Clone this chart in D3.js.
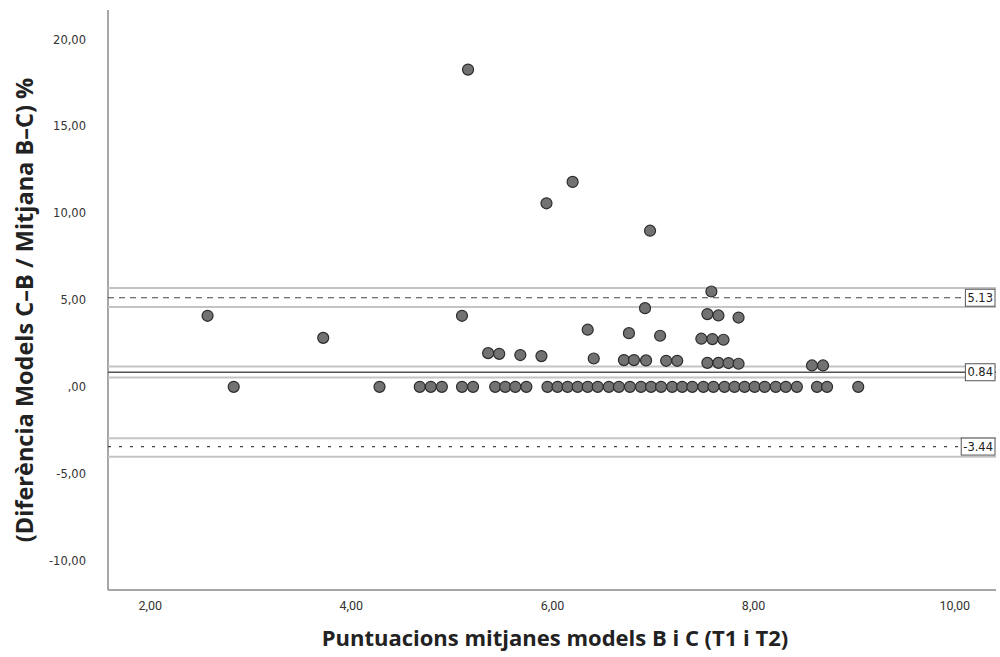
<!DOCTYPE html>
<html>
<head>
<meta charset="utf-8">
<script src="https://cdn.jsdelivr.net/npm/d3@7"></script>
<style>
  html, body { margin: 0; padding: 0; background: #fff; }
  svg { display: block; }
</style>
</head>
<body>
<div id="chart"></div>
<script>
// Bland-Altman style plot: mean score vs. % difference between models

// points off the zero line
const meanScore = [
  2.57, 3.72, 5.10, 5.16, 5.94, 6.20, 6.97, 5.36, 5.47, 5.68, 5.89, 6.35, 6.41,
  6.76, 6.71, 6.81, 6.93, 6.92, 7.07, 7.13, 7.24, 7.58, 7.54, 7.65, 7.85, 7.48,
  7.59, 7.70, 7.54, 7.65, 7.75, 7.85, 8.58, 8.69
];
const diffPct = [
  4.09, 2.82, 4.09, 18.27, 10.57, 11.80, 8.99, 1.94, 1.90, 1.83, 1.77, 3.29, 1.63,
  3.09, 1.54, 1.54, 1.52, 4.53, 2.94, 1.50, 1.50, 5.49, 4.19, 4.11, 3.99, 2.77,
  2.75, 2.71, 1.38, 1.38, 1.37, 1.33, 1.23, 1.23
];
// points with zero difference
const zeroScore = [
  2.83, 4.28, 4.68, 4.79, 4.90, 5.10, 5.21, 5.43, 5.53, 5.63, 5.74, 5.95, 6.05,
  6.15, 6.25, 6.35, 6.45, 6.56, 6.66, 6.77, 6.88, 6.98, 7.08, 7.19, 7.29, 7.39,
  7.50, 7.60, 7.71, 7.81, 7.91, 8.01, 8.11, 8.22, 8.32, 8.43, 8.63, 8.73, 9.04
];

// reference lines: mean difference and limits of agreement, with CI bounds
const refNames  = ['upper', 'mean', 'lower'];
const refValues = [5.13, 0.84, -3.44];
const refLow    = [4.59, 0.54, -4.02];
const refHigh   = [5.69, 1.17, -2.96];
const refLabels = ['5.13', '0.84', '-3.44'];

const xTicks = [2, 4, 6, 8, 10];
const yTicks = [-10, -5, 0, 5, 10, 15, 20];

const xTitle = 'Puntuacions mitjanes models B i C (T1 i T2)';
const yTitle = '(Diferència Models C\u2013B / Mitjana B\u2013C) %';

const W = 1000, H = 657;
const M = { top: 10, right: 4, bottom: 67, left: 108 };

const svg = d3.select('#chart').append('svg')
  .attr('width', W).attr('height', H);

const x = d3.scaleLinear().domain([1.58, 10.41]).range([M.left, W - M.right]);
const y = d3.scaleLinear().domain([-11.7, 21.7]).range([H - M.bottom, M.top]);

const loc = d3.formatLocale({ decimal: ',', thousands: '.', grouping: [3], currency: ['', ''], minus: '-' });
const fmt = v => v === 0 ? ',00' : loc.format('.2f')(v);

// axes
svg.append('line')
  .attr('x1', M.left).attr('x2', M.left)
  .attr('y1', M.top).attr('y2', H - M.bottom)
  .attr('stroke', '#8a8a8a').attr('stroke-width', 1.5);
svg.append('line')
  .attr('x1', M.left).attr('x2', W - M.right)
  .attr('y1', H - M.bottom).attr('y2', H - M.bottom)
  .attr('stroke', '#8a8a8a').attr('stroke-width', 1.5);

svg.append('g').selectAll('text')
  .data(yTicks).join('text')
  .attr('x', M.left - 22).attr('y', d => y(d))
  .attr('dy', '0.35em')
  .attr('text-anchor', 'end')
  .attr('font-family', 'DejaVu Sans, sans-serif')
  .attr('font-size', 11.5)
  .attr('fill', '#333')
  .text(fmt);

svg.append('g').selectAll('text')
  .data(xTicks).join('text')
  .attr('x', d => x(d)).attr('y', H - M.bottom + 16)
  .attr('dy', '0.35em')
  .attr('text-anchor', 'middle')
  .attr('font-family', 'Liberation Sans Narrow, Roboto, sans-serif')
  .attr('font-size', 12.5)
  .attr('fill', '#333')
  .text(fmt);

// titles
svg.append('text')
  .attr('x', 555).attr('y', H - 11)
  .attr('text-anchor', 'middle')
  .attr('font-family', 'Open Sans, sans-serif')
  .attr('font-weight', 700)
  .attr('font-size', 22)
  .attr('fill', '#222')
  .text(xTitle);

svg.append('text')
  .attr('transform', `translate(33,${(M.top + H - M.bottom) / 2 + 10}) rotate(-90)`)
  .attr('text-anchor', 'middle')
  .attr('font-family', 'Open Sans, sans-serif')
  .attr('font-weight', 700)
  .attr('font-size', 23.5)
  .attr('fill', '#222')
  .text(yTitle);

// reference lines
const ref = svg.append('g');
refNames.forEach((name, i) => {
  [refLow[i], refHigh[i]].forEach(v => {
    ref.append('line')
      .attr('x1', M.left).attr('x2', W - M.right)
      .attr('y1', y(v)).attr('y2', y(v))
      .attr('stroke', '#c4c4c4').attr('stroke-width', 2);
  });
  ref.append('line')
    .attr('x1', M.left).attr('x2', W - M.right)
    .attr('y1', y(refValues[i])).attr('y2', y(refValues[i]))
    .attr('stroke', name === 'mean' ? '#555' : '#444')
    .attr('stroke-width', name === 'mean' ? 1.6 : 1.2)
    .attr('stroke-dasharray', name === 'upper' ? '6,5' : name === 'lower' ? '3,8' : null);
});

// points
const pts = svg.append('g');
const allX = meanScore.concat(zeroScore);
const allY = diffPct.concat(zeroScore.map(() => 0));
pts.selectAll('circle')
  .data(d3.range(allX.length)).join('circle')
  .attr('cx', i => x(allX[i]))
  .attr('cy', i => y(allY[i]))
  .attr('r', 5.5)
  .attr('fill', '#727272')
  .attr('stroke', '#2b2b2b')
  .attr('stroke-width', 1.2);

// value labels at the right edge
const lab = svg.append('g');
refNames.forEach((name, i) => {
  const t = lab.append('text')
    .attr('x', W - M.right - 3).attr('y', y(refValues[i]))
    .attr('dy', '0.35em')
    .attr('text-anchor', 'end')
    .attr('font-family', 'DejaVu Sans, sans-serif')
    .attr('font-size', 11.5)
    .attr('fill', '#222')
    .text(refLabels[i]);
  const bb = t.node().getBBox();
  lab.insert('rect', () => t.node())
    .attr('x', bb.x - 2).attr('y', y(refValues[i]) - 8.5)
    .attr('width', W - M.right - bb.x + 1).attr('height', 17)
    .attr('fill', '#fff')
    .attr('stroke', '#555').attr('stroke-width', 1);
});
</script>
</body>
</html>
